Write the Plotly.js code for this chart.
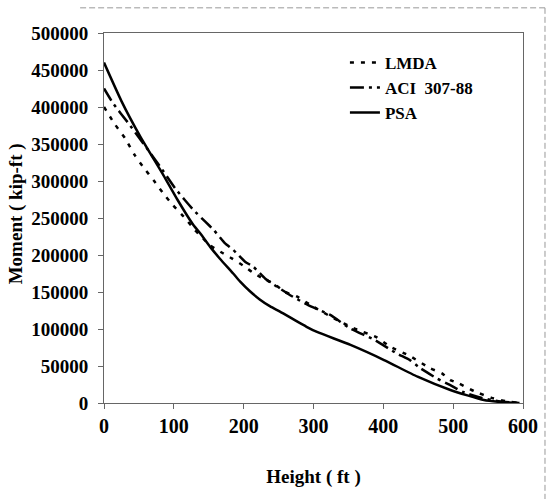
<!DOCTYPE html>
<html>
<head>
<meta charset="utf-8">
<script src="https://cdn.plot.ly/plotly-3.0.1.min.js"></script>
<style>html,body{margin:0;padding:0;background:#fff;}#chart{width:551px;height:499px;}</style>
</head>
<body>
<div id="chart"></div>
<script>
// Height (ft)
var lmdaX = [0, 16, 30, 44, 56, 71, 85, 99, 114, 130, 152, 171, 183, 202, 212, 228, 242, 259, 276, 300, 330, 360, 390, 410, 438, 467, 484, 496, 507, 530, 555, 575, 595];
var lmdaY = [400000, 376000, 358000, 335000, 319000, 301000, 283000, 267000, 252000, 234000, 213000, 202000, 195500, 184000, 177000, 168000, 162000, 150000, 144000, 130000, 114000, 100000, 89000, 76000, 63500, 47000, 40000, 31000, 27000, 16000, 7000, 2500, 0];

var aciX = [0, 13, 35, 56, 80, 102, 116, 128, 145, 157, 173, 185, 202, 214, 231, 266, 293, 324, 352, 388, 419, 438, 453, 477, 496, 514, 540, 565, 595];
var aciY = [425000, 405000, 378000, 351000, 320000, 290000, 274000, 261000, 245000, 234000, 216000, 207000, 191000, 184000, 168000, 146000, 132000, 119000, 101000, 85000, 67000, 58000, 47000, 33000, 24000, 15000, 7000, 2500, 0];

var psaX = [0, 25, 52, 85, 105, 128, 138, 152, 166, 185, 195, 209, 223, 238, 252, 290, 305, 353, 401, 449, 496, 544, 570, 595];
var psaY = [460000, 408000, 360000, 308000, 275000, 240500, 229000, 211000, 195000, 175000, 164000, 151000, 140000, 130500, 123400, 103000, 96000, 78500, 58100, 35500, 17600, 4000, 1200, 0];

var seriesNames = ["LMDA", "ACI  307-88", "PSA"];
var xTicks = [0, 100, 200, 300, 400, 500, 600];
var yTicks = [0, 50000, 100000, 150000, 200000, 250000, 300000, 350000, 400000, 450000, 500000];
var xTitle = "Height ( ft )";
var yTitle = "Moment ( kip-ft )";

var FONT = "'Liberation Serif', 'Times New Roman', serif";

var traces = [
  {x: lmdaX, y: lmdaY, name: seriesNames[0], mode: "lines",
   line: {color: "#000", width: 2.5, dash: "4px,7px", shape: "spline", smoothing: 0.5}},
  {x: aciX, y: aciY, name: seriesNames[1], mode: "lines",
   line: {color: "#000", width: 2.5, dash: "14px,5px,3px,5px", shape: "spline", smoothing: 0.5}},
  {x: psaX, y: psaY, name: seriesNames[2], mode: "lines",
   line: {color: "#000", width: 2.5, shape: "spline", smoothing: 0.5}}
];

var layout = {
  width: 551, height: 499,
  paper_bgcolor: "#fff", plot_bgcolor: "#fff",
  margin: {l: 104, r: 28, t: 33, b: 96},
  font: {family: FONT, color: "#000", size: 18, weight: "bold"},
  showlegend: true,
  legend: {x: 0.575, y: 0.968, xanchor: "left", yanchor: "top",
           bgcolor: "rgba(0,0,0,0)", borderwidth: 0,
           font: {family: FONT, size: 17, color: "#000", weight: "bold"}},
  xaxis: {
    range: [0, 600], tickvals: xTicks, tickformat: "d",
    showgrid: false, zeroline: false,
    showline: true, linecolor: "#666", linewidth: 1, mirror: true,
    ticks: "outside", ticklen: 5, tickcolor: "#666",
    ticklabelstandoff: 0,
    tickfont: {family: FONT, size: 20, color: "#000", weight: "bold"},
    title: {text: xTitle, standoff: 33,
            font: {family: FONT, size: 19, color: "#000", weight: "bold"}}
  },
  yaxis: {
    range: [0, 500000], tickvals: yTicks, tickformat: "d",
    showgrid: false, zeroline: false,
    showline: true, linecolor: "#666", linewidth: 1, mirror: true,
    ticks: "outside", ticklen: 5, tickcolor: "#666",
    ticklabelstandoff: 6,
    tickfont: {family: FONT, size: 19, color: "#000", weight: "bold"}
  },
  annotations: [
    {text: yTitle, xref: "paper", yref: "paper", x: -0.21, y: 0.51,
     xanchor: "center", yanchor: "middle", textangle: -90, showarrow: false,
     font: {family: FONT, size: 19, color: "#000", weight: "bold"}}
  ],
  shapes: [
    {type: "line", xref: "paper", yref: "paper", x0: -0.057, x1: 1.0525, y0: 1.068, y1: 1.068,
     line: {color: "#999", width: 1, dash: "6px,3px"}},
    {type: "line", xref: "paper", yref: "paper", x0: 1.0525, x1: 1.0525, y0: 1.068, y1: -0.26,
     line: {color: "#999", width: 1, dash: "6px,3px"}}
  ]
};

Plotly.newPlot("chart", traces, layout, {displayModeBar: false, staticPlot: true});
</script>
</body>
</html>
